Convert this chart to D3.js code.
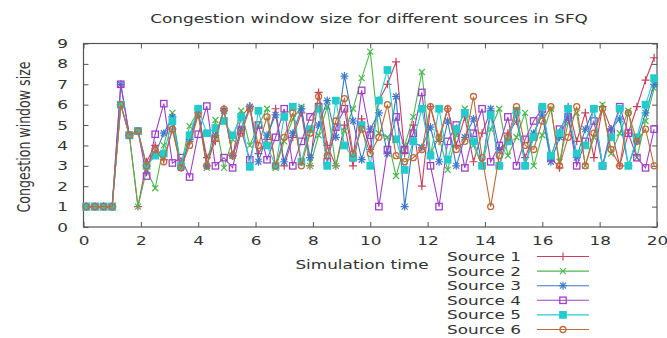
<!DOCTYPE html>
<html>
<head>
<meta charset="utf-8">
<script src="https://cdn.jsdelivr.net/npm/d3@7"></script>
<style>
  body { margin: 0; background: #fff; }
  text { font-family: "DejaVu Sans", sans-serif; font-size: 12.6px; fill: #333; }
</style>
</head>
<body>
<svg id="chart" width="667" height="338"></svg>
<script>
// sample times (s)
const times = [0.1, 0.4, 0.7, 1.0, 1.3, 1.6, 1.9, 2.2, 2.5, 2.8, 3.1, 3.4, 3.7, 4.0, 4.3, 4.6, 4.9,
  5.2, 5.5, 5.8, 6.1, 6.4, 6.7, 7.0, 7.3, 7.6, 7.9, 8.2, 8.5, 8.8, 9.1, 9.4, 9.7, 10.0, 10.3, 10.6,
  10.9, 11.2, 11.5, 11.8, 12.1, 12.4, 12.7, 13.0, 13.3, 13.6, 13.9, 14.2, 14.5, 14.8, 15.1, 15.4,
  15.7, 16.0, 16.3, 16.6, 16.9, 17.2, 17.5, 17.8, 18.1, 18.4, 18.7, 19.0, 19.3, 19.6, 19.9];

const source1 = [1, 1, 1, 1, 6, 4.5, 1, 3.2, 4.0, 3.3, 4.8, 3.0, 4.2, 5.6, 3.4, 4.2, 5.8, 3.5, 5.4, 5.93,
  3.6, 4.3, 5.8, 3.0, 4.4, 5.6, 3.0, 6.6, 4.0, 3.0, 5.0, 3.0, 5.3, 3.8, 6.2, 7.0, 8.1, 3.6, 5.0, 2.0,
  5.9, 4.2, 5.8, 4.0, 5.4, 3.2, 4.6, 5.7, 3.0, 4.6, 5.2, 3.4, 4.5, 5.8, 3.4, 2.9, 5.9, 4.2, 5.6, 3.4,
  5.9, 4.8, 3.0, 4.6, 5.9, 7.2, 8.3];
const source2 = [1, 1, 1, 1, 6, 4.5, 1, 2.8, 1.9, 4.0, 5.6, 3.0, 4.95, 5.7, 2.9, 5.25, 2.9, 4.3, 5.7, 4.0,
  5.0, 5.8, 2.9, 4.2, 5.3, 5.9, 3.0, 4.5, 5.9, 3.0, 4.7, 5.8, 7.3, 8.6, 4.6, 4.4, 2.5, 4.0, 5.4, 7.6,
  3.6, 4.4, 2.8, 4.5, 5.8, 4.0, 3.0, 4.8, 5.8, 3.5, 4.4, 5.6, 3.0, 4.5, 5.8, 3.2, 5.1, 5.6, 3.0, 4.4,
  6.0, 3.6, 4.6, 5.7, 3.4, 5.2, 6.8];
const source3 = [1, 1, 1, 1, 7, 4.5, 4.7, 3.0, 3.6, 4.6, 5.4, 2.9, 4.3, 5.8, 3.0, 4.5, 5.7, 3.5, 4.8, 5.9,
  3.2, 4.5, 5.5, 3.2, 4.6, 5.8, 3.4, 5.0, 6.2, 4.4, 7.4, 5.2, 3.3, 4.8, 5.6, 3.6, 6.4, 1.0, 4.2, 3.9,
  4.9, 3.2, 5.2, 3.0, 4.4, 5.3, 3.0, 5.8, 3.8, 4.2, 5.6, 3.0, 4.6, 5.5, 3.2, 4.4, 5.4, 3.4, 4.8, 5.8,
  3.0, 4.8, 5.3, 3.0, 4.2, 5.6, 7.0];
const source4 = [1, 1, 1, 1, 7, 4.5, 4.7, 2.5, 4.55, 6.05, 3.14, 3.4, 2.45, 4.55, 5.93, 3.0, 3.4, 2.9, 4.75, 3.3,
  5.0, 3.3, 4.4, 5.8, 3.0, 4.2, 5.4, 5.9, 3.2, 4.9, 5.8, 3.4, 6.7, 4.5, 1.0, 3.8, 5.4, 3.8, 4.6, 6.6,
  3.0, 1.0, 4.2, 5.0, 2.9, 4.6, 5.8, 3.2, 4.0, 5.4, 3.0, 4.3, 5.2, 5.8, 3.4, 4.8, 5.4, 3.0, 4.2, 5.2,
  3.0, 4.6, 5.9, 4.6, 3.4, 2.9, 4.8];
const source5 = [1, 1, 1, 1, 6, 4.5, 4.7, 3.0, 3.5, 3.6, 5.2, 3.0, 4.5, 5.8, 4.6, 4.85, 5.2, 4.5, 5.4, 2.95,
  5.7, 4.0, 3.0, 5.4, 5.9, 3.2, 4.8, 5.8, 3.0, 6.2, 4.0, 3.4, 5.0, 3.0, 6.2, 7.7, 4.3, 2.8, 4.2, 5.8,
  3.5, 5.8, 3.3, 4.8, 5.6, 4.2, 3.0, 5.5, 3.0, 4.2, 5.7, 3.0, 4.4, 5.9, 3.5, 4.6, 5.8, 3.6, 4.0, 5.8,
  3.0, 4.4, 5.8, 3.0, 4.4, 6.0, 7.3];
const source6 = [1, 1, 1, 1, 6, 4.5, 4.7, 3.0, 3.8, 3.2, 4.8, 2.9, 4.0, 5.5, 3.0, 4.35, 5.78, 3.5, 4.6, 5.8,
  4.0, 5.4, 3.0, 4.4, 5.6, 3.0, 4.6, 6.4, 3.5, 5.2, 6.3, 3.6, 4.8, 3.6, 4.4, 6.0, 3.5, 3.2, 3.4, 3.8,
  5.9, 4.4, 5.8, 3.8, 4.2, 6.4, 3.4, 1.0, 3.5, 4.4, 5.9, 4.0, 3.8, 5.2, 5.9, 3.0, 4.4, 5.9, 3.0, 4.6,
  5.8, 3.8, 3.0, 5.6, 4.2, 4.8, 3.0];

const seriesNames = ["Source 1", "Source 2", "Source 3", "Source 4", "Source 5", "Source 6"];
const xTicks = [0, 2, 4, 6, 8, 10, 12, 14, 16, 18, 20];
const yTicks = [0, 1, 2, 3, 4, 5, 6, 7, 8, 9];

const colors = ["#c8405e", "#4db84d", "#3b78c8", "#a040c8", "#22cccc", "#c06a38"];
const shapes = ["plus", "cross", "star", "square", "fsquare", "circle"];
const allSeries = [source1, source2, source3, source4, source5, source6];

const plotLeft = 83.5, plotRight = 657, plotTop = 43.5, plotBottom = 227;
const stretch = 1.34; // picture is a bit wider than the font

const svg = d3.select("#chart");

const x = d3.scaleLinear().domain([0, 20]).range([plotLeft, plotRight]);
const y = d3.scaleLinear().domain([0, 9]).range([plotBottom, plotTop]);

// axes, ticks pointing inwards like gnuplot
svg.append("g")
  .attr("transform", "translate(0," + plotBottom + ")")
  .call(d3.axisBottom(x).tickValues(xTicks).tickSizeInner(-5).tickSizeOuter(0).tickPadding(9.5))
  .call(g => g.select(".domain").remove());
svg.append("g")
  .attr("transform", "translate(0," + plotTop + ")")
  .call(d3.axisTop(x).tickValues(xTicks).tickSizeInner(-5).tickSizeOuter(0).tickFormat(""))
  .call(g => g.select(".domain").remove());
svg.append("g")
  .attr("transform", "translate(" + plotLeft + ",0)")
  .call(d3.axisLeft(y).tickValues(yTicks).tickSizeInner(-5).tickSizeOuter(0).tickPadding(11.5))
  .call(g => g.select(".domain").remove());
svg.append("g")
  .attr("transform", "translate(" + plotRight + ",0)")
  .call(d3.axisRight(y).tickValues(yTicks).tickSizeInner(-5).tickSizeOuter(0).tickFormat(""))
  .call(g => g.select(".domain").remove());

svg.selectAll(".tick line").attr("stroke", "#555");
svg.selectAll(".tick text")
  .attr("transform", "scale(" + stretch + ",1)");
svg.selectAll("g").attr("font-family", null).attr("font-size", null);

svg.append("rect")
  .attr("x", plotLeft).attr("y", plotTop)
  .attr("width", plotRight - plotLeft).attr("height", plotBottom - plotTop)
  .attr("fill", "none").attr("stroke", "#555").attr("stroke-width", 1.2);

function label(txt, px, py, anchor, rot) {
  svg.append("text")
    .attr("text-anchor", anchor)
    .attr("transform", "translate(" + px + "," + py + ") scale(" + stretch + ",1)" + (rot ? " rotate(-90)" : ""))
    .text(txt);
}

label("Congestion window size for different sources in SFQ", 369, 23, "middle");
label("Congestion window size", 30, 137, "middle", true);
label("Simulation time", 362, 268.5, "middle");

// draw one marker shape at (px,py)
function marker(g, shape, color, px, py) {
  const m = g.append("g").attr("transform", "translate(" + px + "," + py + ")");
  if (shape === "plus" || shape === "star") {
    m.append("path").attr("d", "M-4,0H4M0,-4V4").attr("stroke", color).attr("stroke-width", 1.2);
  }
  if (shape === "cross" || shape === "star") {
    m.append("path").attr("d", "M-3,-3L3,3M-3,3L3,-3").attr("stroke", color).attr("stroke-width", 1.2);
  }
  if (shape === "square" || shape === "fsquare") {
    m.append("rect").attr("x", -3.2).attr("y", -3.2).attr("width", 6.4).attr("height", 6.4)
      .attr("fill", shape === "fsquare" ? color : "none")
      .attr("stroke", color).attr("stroke-width", 1.3);
  }
  if (shape === "circle") {
    m.append("circle").attr("r", 3).attr("fill", "none").attr("stroke", color).attr("stroke-width", 1.3);
  }
}

const line = d3.line().x(d => x(d[0])).y(d => y(d[1]));

allSeries.forEach((vals, i) => {
  const pts = times.map((t, k) => [t, vals[k]]);
  const g = svg.append("g");
  g.append("path").datum(pts)
    .attr("d", line)
    .attr("fill", "none")
    .attr("stroke", colors[i])
    .attr("stroke-width", 1.1);
  pts.forEach(p => marker(g, shapes[i], colors[i], x(p[0]), y(p[1])));
});

// legend
const legX = 447, legY = 256.5, legStep = 14.6;
seriesNames.forEach((name, i) => {
  const ly = legY + i * legStep;
  label(name, legX, ly + 4.5, "start");
  svg.append("line").attr("x1", 537).attr("x2", 589).attr("y1", ly).attr("y2", ly)
    .attr("stroke", colors[i]).attr("stroke-width", 1.1);
  marker(svg, shapes[i], colors[i], 563, ly);
});
</script>
</body>
</html>
